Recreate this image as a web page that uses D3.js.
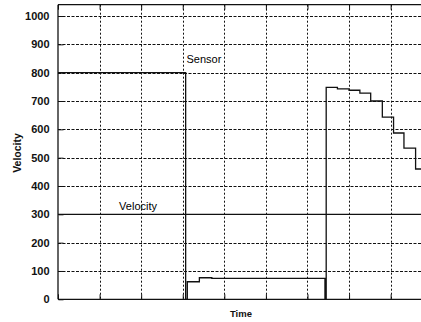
<!DOCTYPE html>
<html>
<head>
<meta charset="utf-8">
<script src="https://cdn.jsdelivr.net/npm/d3@7"></script>
<style>
  html, body { margin: 0; padding: 0; background: #fff; }
  svg { display: block; }
  text { font-family: "Liberation Sans", Arial, sans-serif; fill: #111; font-weight: bold; }
  text.series { font-weight: normal; fill: #000; }
</style>
</head>
<body>
<svg id="chart" width="421" height="322"></svg>
<script>
// Time ticks (unlabelled) and velocity ticks
const timeTicks = [0, 1, 2, 3, 4, 5, 6, 7, 8];
const velocityTicks = [0, 100, 200, 300, 400, 500, 600, 700, 800, 900, 1000];

// Sensor trace (step-after samples)
const sensorTime  = [0,   3.07, 3.11, 3.40, 3.70, 6.42, 6.45, 6.72, 7.00, 7.26, 7.52, 7.80, 8.07, 8.32, 8.60, 8.80];
const sensorValue = [800, 0,    62,   76,   74,   0,    748,  743,  738,  728,  700,  643,  587,  534,  460,  460];

// Velocity set point
const velocityTime  = [0, 8.80];
const velocityValue = [300, 300];

// Series name labels
const labelNames = ["Sensor", "Velocity"];
const labelTime  = [3.09, 1.47];
const labelValue = [834, 315];

const svg = d3.select("#chart");
const plotLeft = 58, plotRight = 421, plotTop = 4.7, plotBottom = 299.3;

const x = d3.scaleLinear().domain([0, 8.73]).range([plotLeft, plotRight]);
const y = d3.scaleLinear().domain([0, 1040]).range([plotBottom, plotTop]);

// Grid
const grid = svg.append("g").attr("stroke", "#111").attr("stroke-width", 1).attr("fill", "none");
grid.selectAll("line.h").data(velocityTicks.filter(v => v > 0)).join("line")
  .attr("class", "h")
  .attr("x1", plotLeft).attr("x2", plotRight)
  .attr("y1", d => Math.round(y(d)) + 0.5).attr("y2", d => Math.round(y(d)) + 0.5)
  .attr("stroke-dasharray", "3,1.5");
grid.selectAll("line.v").data(timeTicks.filter(t => t > 0)).join("line")
  .attr("class", "v")
  .attr("x1", d => Math.round(x(d)) + 0.5).attr("x2", d => Math.round(x(d)) + 0.5)
  .attr("y1", plotTop).attr("y2", plotBottom)
  .attr("stroke-dasharray", "2,2");

// Axes: left with labels, bottom/top with inward ticks only
const yAxis = d3.axisLeft(y).tickValues(velocityTicks).tickFormat(d3.format("d")).tickSize(-5).tickPadding(9);
const gy = svg.append("g").attr("transform", `translate(${plotLeft + 0.5},0)`).call(yAxis);
gy.select(".domain").remove();
gy.selectAll(".tick line").attr("stroke", "#111");
gy.selectAll(".tick text").attr("font-size", 11).attr("font-family", "Liberation Sans, Arial, sans-serif")
  .attr("font-weight", "bold").attr("fill", "#111");

const xAxis = d3.axisBottom(x).tickValues(timeTicks).tickSize(-5).tickFormat("");
const gx = svg.append("g").attr("transform", `translate(0,${plotBottom})`).call(xAxis);
gx.select(".domain").remove();
gx.selectAll(".tick line").attr("stroke", "#111");

const xTop = d3.axisTop(x).tickValues(timeTicks).tickSize(-5).tickFormat("");
const gt = svg.append("g").attr("transform", `translate(0,${plotTop})`).call(xTop);
gt.select(".domain").remove();
gt.selectAll(".tick line").attr("stroke", "#111");

// Frame
const frame = svg.append("g").attr("stroke", "#111").attr("stroke-width", 1.3);
frame.append("line").attr("x1", plotLeft).attr("x2", plotRight).attr("y1", plotTop).attr("y2", plotTop);
frame.append("line").attr("x1", plotLeft).attr("x2", plotRight).attr("y1", plotBottom).attr("y2", plotBottom);
frame.append("line").attr("x1", plotLeft).attr("x2", plotLeft).attr("y1", plotTop).attr("y2", plotBottom);

// Series
const line = d3.line().curve(d3.curveStepAfter).x(d => x(d[0])).y(d => y(d[1]));
const sensor = sensorTime.map((t, i) => [t, sensorValue[i]]);
const velocity = velocityTime.map((t, i) => [t, velocityValue[i]]);

svg.append("path").datum(velocity).attr("d", line)
  .attr("fill", "none").attr("stroke", "#111").attr("stroke-width", 1.3);
svg.append("path").datum(sensor).attr("d", line)
  .attr("fill", "none").attr("stroke", "#111").attr("stroke-width", 1.3);

// Series labels
svg.selectAll("text.series").data(labelNames).join("text")
  .attr("class", "series")
  .attr("x", (d, i) => x(labelTime[i]))
  .attr("y", (d, i) => y(labelValue[i]))
  .attr("font-size", 11)
  .text(d => d);

// Axis titles
svg.append("text").attr("x", 241).attr("y", 317).attr("text-anchor", "middle")
  .attr("font-size", 9.5).text("Time");
svg.append("text").attr("transform", "translate(21,153) rotate(-90)").attr("text-anchor", "middle")
  .attr("font-size", 10.5).text("Velocity");
</script>
</body>
</html>
